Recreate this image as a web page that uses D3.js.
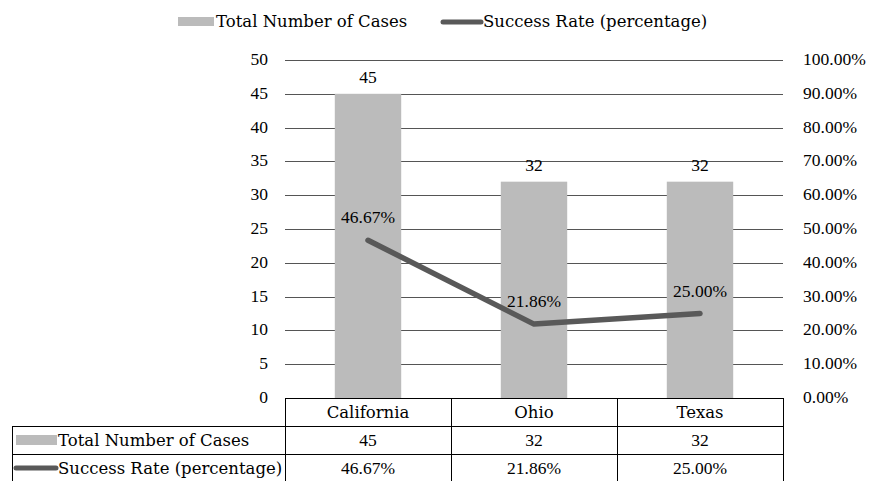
<!DOCTYPE html>
<html>
<head>
<meta charset="utf-8">
<title>cases chart</title>
<style>
  body { margin: 0; background: #fff; }
  svg { display: block; }
  .num { font-family: "Liberation Serif", "Times New Roman", serif; font-size: 17.5px; fill: #000; }
  .word { font-family: "DejaVu Serif", serif; font-size: 16.5px; fill: #000; }
</style>
</head>
<body>
<svg id="chart" width="873" height="481"></svg>
<script src="https://cdn.jsdelivr.net/npm/d3@7"></script>
<script>
var categories = ["California", "Ohio", "Texas"];
var cases = [45, 32, 32];
var rates = [46.67, 21.86, 25.00];
var leftTicks = [0, 5, 10, 15, 20, 25, 30, 35, 40, 45, 50];
var rightTicks = [0, 10, 20, 30, 40, 50, 60, 70, 80, 90, 100];
var seriesNames = ["Total Number of Cases", "Success Rate (percentage)"];

var svg = d3.select("#chart");
var plotL = 285, plotR = 783, plotT = 60, plotB = 398;
var barColor = "#bbbbbb", lineColor = "#595959";

var x = d3.scaleBand().domain(categories).range([plotL, plotR]);
var yL = d3.scaleLinear().domain([0, 50]).range([plotB, plotT]);
var yR = d3.scaleLinear().domain([0, 100]).range([plotB, plotT]);
var cx = d => x(d) + x.bandwidth() / 2;

// gridlines
svg.append("g").selectAll("line").data(leftTicks.slice(1)).join("line")
  .attr("x1", plotL).attr("x2", plotR)
  .attr("y1", d => Math.round(yL(d)) + 0.5).attr("y2", d => Math.round(yL(d)) + 0.5)
  .attr("stroke", "#555").attr("stroke-width", 1);

// left axis labels
svg.append("g").selectAll("text").data(leftTicks).join("text")
  .attr("class", "num").attr("x", 268).attr("y", d => yL(d) + 5)
  .attr("text-anchor", "end").text(d => d);

// right axis labels
svg.append("g").selectAll("text").data(rightTicks).join("text")
  .attr("class", "num").attr("x", 803).attr("y", d => yR(d) + 5)
  .text(d => d.toFixed(2) + "%");

// bars
var bw = x.bandwidth() * 0.4;
svg.append("g").selectAll("rect").data(categories).join("rect")
  .attr("x", d => cx(d) - bw / 2)
  .attr("width", bw)
  .attr("y", (d, i) => yL(cases[i]))
  .attr("height", (d, i) => plotB - yL(cases[i]))
  .attr("fill", barColor);

// bar labels
svg.append("g").selectAll("text").data(categories).join("text")
  .attr("class", "num").attr("text-anchor", "middle")
  .attr("x", cx)
  .attr("y", (d, i) => yL(cases[i]) - 11)
  .text((d, i) => cases[i]);

// line
var line = d3.line().x((d, i) => cx(categories[i])).y(d => yR(d));
svg.append("path").datum(rates).attr("d", line)
  .attr("fill", "none").attr("stroke", lineColor).attr("stroke-width", 5.5)
  .attr("stroke-linecap", "round").attr("stroke-linejoin", "round");

// line labels
svg.append("g").selectAll("text").data(rates).join("text")
  .attr("class", "num").attr("text-anchor", "middle")
  .attr("x", (d, i) => cx(categories[i]))
  .attr("y", d => yR(d) - 17)
  .text(d => d.toFixed(2) + "%");

// data table
var rowH = 28, tLeft = 12;
var tbl = svg.append("g").attr("fill", "none").attr("stroke", "#000").attr("stroke-width", 1);
tbl.append("line").attr("x1", plotL).attr("x2", plotR).attr("y1", plotB + 0.5).attr("y2", plotB + 0.5);
[plotB + rowH, plotB + 2 * rowH].forEach(function (yy) {
  tbl.append("line").attr("x1", tLeft).attr("x2", plotR).attr("y1", yy + 0.5).attr("y2", yy + 0.5);
});
tbl.append("line").attr("x1", tLeft + 0.5).attr("x2", tLeft + 0.5).attr("y1", plotB + rowH).attr("y2", 481);
x.domain().concat([null]).forEach(function (d) {
  var xx = d === null ? plotR : x(d);
  tbl.append("line").attr("x1", Math.round(xx) + 0.5).attr("x2", Math.round(xx) + 0.5)
    .attr("y1", plotB).attr("y2", 481);
});

svg.append("g").selectAll("text").data(categories).join("text")
  .attr("class", "word").attr("text-anchor", "middle")
  .attr("x", cx).attr("y", plotB + 20)
  .text(d => d);

svg.append("g").selectAll("text").data(cases).join("text")
  .attr("class", "num").attr("text-anchor", "middle")
  .attr("x", (d, i) => cx(categories[i])).attr("y", plotB + rowH + 20)
  .text(d => d);

svg.append("g").selectAll("text").data(rates).join("text")
  .attr("class", "num").attr("text-anchor", "middle")
  .attr("x", (d, i) => cx(categories[i])).attr("y", plotB + 2 * rowH + 20)
  .text(d => d.toFixed(2) + "%");

// table legend keys
svg.append("rect").attr("x", 16).attr("y", plotB + rowH + 9).attr("width", 41).attr("height", 10).attr("fill", barColor);
svg.append("text").attr("class", "word").attr("x", 58).attr("y", plotB + rowH + 20).text(seriesNames[0]);
svg.append("line").attr("x1", 16).attr("x2", 56).attr("y1", plotB + 2 * rowH + 14).attr("y2", plotB + 2 * rowH + 14)
  .attr("stroke", lineColor).attr("stroke-width", 5).attr("stroke-linecap", "round");
svg.append("text").attr("class", "word").attr("x", 58).attr("y", plotB + 2 * rowH + 20).text(seriesNames[1]);

// top legend
var lg = svg.append("g");
lg.append("rect").attr("x", 178).attr("y", 17).attr("width", 36).attr("height", 9).attr("fill", barColor);
lg.append("text").attr("class", "word").attr("x", 216).attr("y", 27).text(seriesNames[0]);
lg.append("line").attr("x1", 443).attr("x2", 481).attr("y1", 22).attr("y2", 22)
  .attr("stroke", lineColor).attr("stroke-width", 5).attr("stroke-linecap", "round");
lg.append("text").attr("class", "word").attr("x", 483).attr("y", 27).text(seriesNames[1]);
</script>
</body>
</html>
